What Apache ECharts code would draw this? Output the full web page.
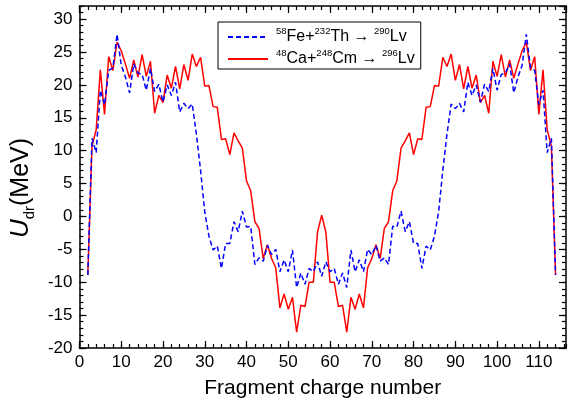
<!DOCTYPE html>
<html>
<head>
<meta charset="utf-8">
<script src="https://cdn.jsdelivr.net/npm/echarts@6/dist/echarts.min.js"></script>
<style>
html, body { margin: 0; padding: 0; background: #fff; }
#chart { width: 569px; height: 404px; }
</style>
</head>
<body>
<div id="chart"></div>
<script>
// fragment charge number Z
var charge = [2, 3, 4, 5, 6, 7, 8, 9, 10, 11, 12, 13, 14, 15, 16, 17, 18, 19, 20, 21, 22, 23, 24, 25, 26, 27, 28, 29, 30,
    31, 32, 33, 34, 35, 36, 37, 38, 39, 40, 41, 42, 43, 44, 45, 46, 47, 48, 49, 50, 51, 52, 53, 54, 55, 56, 57, 58,
    59, 60, 61, 62, 63, 64, 65, 66, 67, 68, 69, 70, 71, 72, 73, 74, 75, 76, 77, 78, 79, 80, 81, 82, 83, 84, 85, 86,
    87, 88, 89, 90, 91, 92, 93, 94, 95, 96, 97, 98, 99, 100, 101, 102, 103, 104, 105, 106, 107, 108, 109, 110, 111, 112, 113, 114];

// 58Fe+232Th -> 290Lv (dashed blue)
var feTh = [-8.9, 11.9, 9.7, 19.2, 17.0, 22.2, 22.6, 27.7, 23.0, 21.2, 18.8, 23.2, 21.8, 21.6, 19.2, 22.5, 19.0, 20.1, 17.4,
    20.0, 18.4, 20.4, 15.9, 17.2, 16.4, 17.1, 12.5, 7.0, 0.7, -3.0, -5.1, -4.5, -7.9, -4.1, -4.1, -0.8, -2.3, 0.8, -1.6,
    -1.5, -7.3, -6.3, -6.8, -4.4, -5.8, -5.0, -8.4, -6.6, -8.4, -5.1, -10.8, -8.6, -10.3, -7.9, -8.4, -6.9, -9.1,
    -6.9, -8.4, -7.9, -10.3, -8.6, -10.8, -5.1, -8.4, -6.6, -8.4, -5.0, -5.8, -4.4, -6.8, -6.3, -7.3, -1.5, -1.6,
    0.8, -2.3, -0.8, -4.1, -4.1, -7.9, -4.5, -5.1, -3.0, 0.7, 7.0, 12.5, 17.1, 16.4, 17.2, 15.9, 20.4, 18.4, 20.0,
    17.4, 20.1, 19.0, 22.5, 19.2, 21.6, 21.8, 23.2, 18.8, 21.2, 23.0, 27.7, 22.6, 22.2, 17.0, 19.2, 9.7, 11.9, -8.9];

// 48Ca+248Cm -> 296Lv (solid red)
var caCm = [-8.9, 10.7, 13.2, 22.3, 15.5, 24.3, 22.2, 26.5, 25.2, 23.2, 21.0, 23.8, 21.2, 24.6, 21.3, 23.6, 15.7, 18.4,
    17.3, 21.5, 19.5, 22.8, 19.4, 23.1, 20.7, 24.7, 22.8, 24.2, 19.8, 19.9, 16.7, 16.6, 11.7, 11.8, 9.4, 12.7, 11.5,
    10.4, 5.4, 3.9, -0.8, -1.8, -6.4, -4.3, -6.4, -7.8, -13.9, -11.8, -14.1, -12.3, -17.6, -13.5, -13.7, -10.0,
    -10.0, -2.4, 0.2, -2.4, -10.0, -10.0, -13.7, -13.5, -17.6, -12.3, -14.1, -11.8, -13.9, -7.8, -6.4, -4.3, -6.4,
    -1.8, -0.8, 3.9, 5.4, 10.4, 11.5, 12.7, 9.4, 11.8, 11.7, 16.6, 16.7, 19.9, 19.8, 24.2, 22.8, 24.7, 20.7, 23.1,
    19.4, 22.8, 19.5, 21.5, 17.3, 18.4, 15.7, 23.6, 21.3, 24.6, 21.2, 23.8, 21.0, 23.2, 25.2, 26.5, 22.2, 24.3,
    15.5, 22.3, 13.2, 10.7, -8.9];

var font = "'Liberation Sans', Arial, sans-serif";
var xMin = 0, xMax = 116.5, yMin = -20, yMax = 32;

var pairs = function (ys) {
    var out = [];
    for (var i = 0; i < charge.length; i++) {
        out.push([charge[i], ys[i]]);
    }
    return out;
};

// one frame side: axis line + inward ticks, no labels
var side = function (pos, min, max, step, len, line) {
    return {
        type: 'value',
        position: pos,
        min: min,
        max: max,
        interval: step,
        axisLine: { show: line, onZero: false, lineStyle: { color: '#000', width: 1.5 } },
        axisTick: { show: true, inside: true, length: len, lineStyle: { color: '#000', width: 1.2 } },
        axisLabel: { show: false },
        splitLine: { show: false }
    };
};

var xMain = side('bottom', xMin, xMax, 10, 7, true);
xMain.axisLabel = { show: true, color: '#000', fontSize: 17, fontFamily: font, margin: 6, showMaxLabel: false };
xMain.name = 'Fragment charge number';
xMain.nameLocation = 'middle';
xMain.nameGap = 30;
xMain.nameTextStyle = { color: '#000', fontSize: 21, fontFamily: font };

var yMain = side('left', yMin, yMax, 5, 7, true);
yMain.axisLabel = { show: true, color: '#000', fontSize: 17, fontFamily: font, margin: 7, showMaxLabel: false };
yMain.name = '{u|U}{s|dr}{t|(MeV)}';
yMain.nameLocation = 'middle';
yMain.nameRotate = 90;
yMain.nameGap = 40;
yMain.nameTextStyle = {
    color: '#000',
    fontFamily: font,
    padding: [0, 22, 0, 0],
    rich: {
        u: { fontSize: 26, fontStyle: 'italic', fontFamily: font, lineHeight: 32, verticalAlign: 'middle' },
        s: { fontSize: 15, fontFamily: font, lineHeight: 15, verticalAlign: 'bottom' },
        t: { fontSize: 25, fontFamily: font, lineHeight: 32, verticalAlign: 'middle' }
    }
};

var legendText = {
    feTh: '{g|}{p|58}{t|Fe+}{p|232}{t|Th \u2192 }{p|290}{t|Lv}',
    caCm: '{g|}{p|48}{t|Ca+}{p|248}{t|Cm \u2192 }{p|296}{t|Lv}'
};

var chart = echarts.init(document.getElementById('chart'));
var option = {
    animation: false,
    backgroundColor: '#fff',
    grid: { left: 77, right: 3, top: 6, bottom: 53 },
    xAxis: [
        xMain,
        side('bottom', xMin, xMax, 2, 4, false),
        side('top', xMin, xMax, 10, 7, true),
        side('top', xMin, xMax, 2, 4, false)
    ],
    yAxis: [
        yMain,
        side('left', yMin, yMax, 1, 4, false),
        side('right', yMin, yMax, 5, 7, true),
        side('right', yMin, yMax, 1, 4, false)
    ],
    legend: {
        orient: 'vertical',
        left: 218,
        top: 22,
        padding: [4, 6, 2, 9],
        itemGap: 3,
        itemWidth: 40,
        itemHeight: 20,
        borderColor: '#000',
        borderWidth: 1,
        itemStyle: { opacity: 0 },
        data: ['feTh', 'caCm'],
        formatter: function (name) {
            return legendText[name];
        },
        textStyle: {
            color: '#000',
            fontFamily: font,
            rich: {
                g: { width: 3 },
                p: { fontSize: 9.5, fontFamily: font, lineHeight: 12, verticalAlign: 'top' },
                t: { fontSize: 16, fontFamily: font, lineHeight: 22, verticalAlign: 'middle' }
            }
        }
    },
    series: [
        {
            name: 'caCm',
            type: 'line',
            data: pairs(caCm),
            symbol: 'none',
            z: 2,
            lineStyle: { color: '#ff0000', width: 1.5 },
            itemStyle: { color: '#ff0000' }
        },
        {
            name: 'feTh',
            type: 'line',
            data: pairs(feTh),
            symbol: 'none',
            z: 3,
            lineStyle: { color: '#0000ff', width: 1.5, type: [5, 3] },
            itemStyle: { color: '#0000ff' }
        }
    ]
};
chart.setOption(option);
</script>
</body>
</html>
